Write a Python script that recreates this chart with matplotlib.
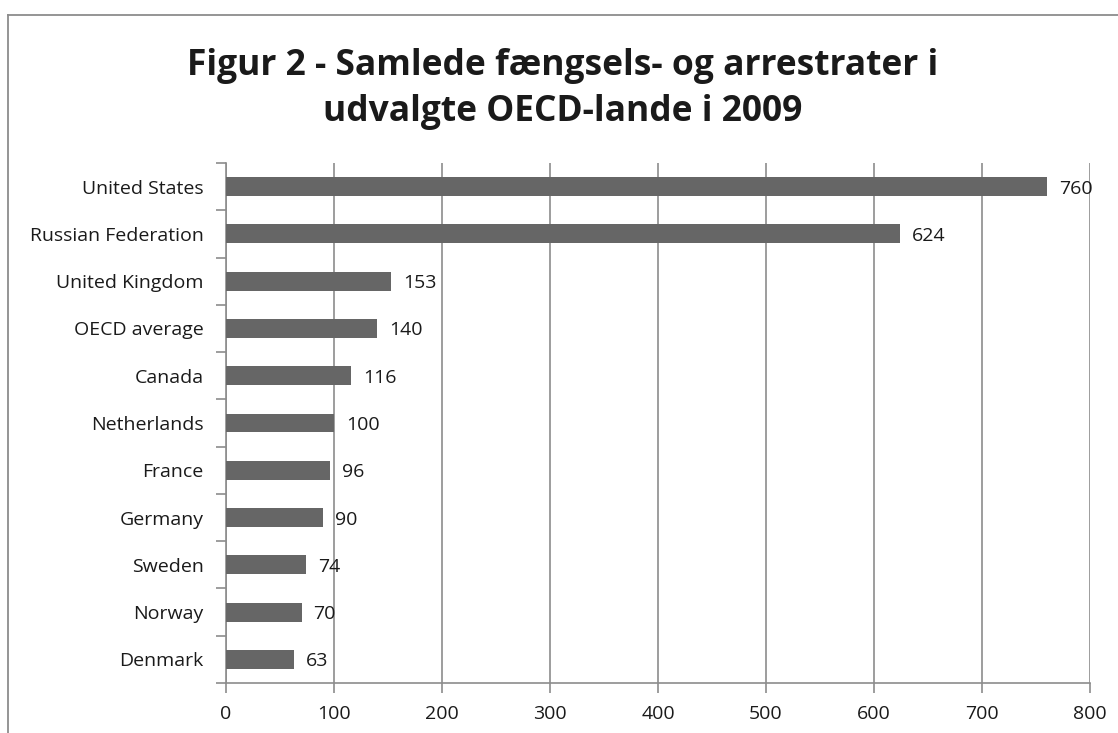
import matplotlib.pyplot as plt
from matplotlib.lines import Line2D

countries = ['United States', 'Russian Federation', 'United Kingdom', 'OECD average',
             'Canada', 'Netherlands', 'France', 'Germany', 'Sweden', 'Norway', 'Denmark']
rates = [760, 624, 153, 140, 116, 100, 96, 90, 74, 70, 63]
xticks = [0, 100, 200, 300, 400, 500, 600, 700, 800]
title = 'Figur 2 - Samlede fængsels- og arrestrater i\nudvalgte OECD-lande i 2009'

plt.rcParams['font.family'] = ['Open Sans', 'DejaVu Sans']

W, H = 1118, 733
fig = plt.figure(figsize=(W / 100, H / 100), dpi=100)
ax = fig.add_axes([226 / W, 1 - 683 / H, (1090 - 226) / W, (683 - 163) / H])

grid_c = '#8c8c8c'
bar_c = '#666666'
txt_c = '#1a1a1a'
fs = 14

n = len(countries)
ypos = list(range(n))
ax.barh(ypos, rates, height=0.4, color=bar_c, zorder=3)
ax.set_ylim(n - 0.5, -0.5)
ax.set_xlim(0, 800)
ax.set_xticks(xticks)
ax.set_yticks(ypos)
ax.set_yticklabels(countries)
ax.set_yticks([i - 0.5 for i in range(n + 1)], minor=True)

for y, v in zip(ypos, rates):
    ax.text(v + 11, y, str(v), va='center_baseline', ha='left', fontsize=fs,
            color=txt_c, zorder=4)

ax.grid(axis='x', color=grid_c, linewidth=1.2, zorder=0)
for s in ['top', 'right']:
    ax.spines[s].set_visible(False)
for s in ['left', 'bottom']:
    ax.spines[s].set_color(grid_c)
    ax.spines[s].set_linewidth(1.2)

ax.tick_params(axis='x', length=7, width=1.2, color=grid_c, labelsize=fs,
               labelcolor=txt_c, pad=9)
ax.tick_params(axis='y', which='major', length=0, labelsize=fs,
               labelcolor=txt_c, pad=16)
ax.tick_params(axis='y', which='minor', length=7, width=1.2, color=grid_c)

fig.text(563 / W, 1 - 89 / H, title, ha='center', va='center', fontsize=25.5,
         fontweight='bold', color=txt_c, linespacing=1.4)

# outer chart frame (only top and left visible in the crop)
fig.add_artist(Line2D([8 / W, 1], [1 - 15 / H, 1 - 15 / H], transform=fig.transFigure,
                      color='#8c8c8c', linewidth=1.3))
fig.add_artist(Line2D([8 / W, 8 / W], [1 - 15 / H, 0], transform=fig.transFigure,
                      color='#8c8c8c', linewidth=1.3))

fig.savefig('out.png', dpi=100)
